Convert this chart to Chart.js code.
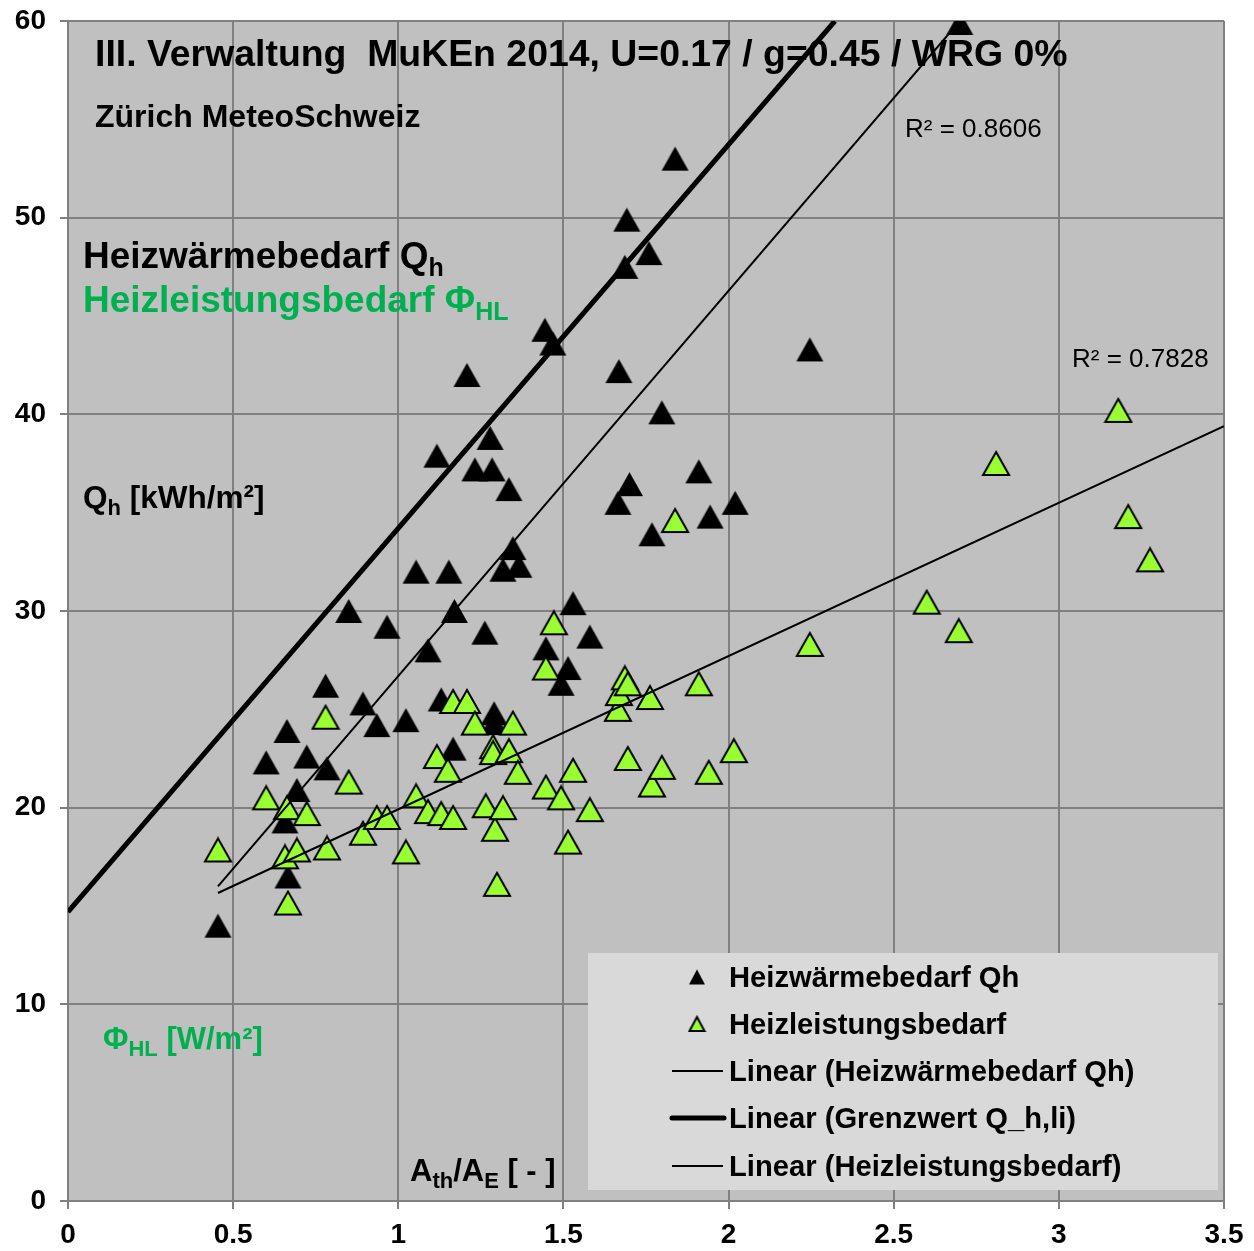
<!DOCTYPE html>
<html>
<head>
<meta charset="utf-8">
<script src="https://cdn.jsdelivr.net/npm/chart.js@4"></script>
<style>
  body { margin: 0; background: #fff; }
  canvas { display: block; }
</style>
</head>
<body>
<canvas id="chartVerwaltung" width="1254" height="1251"></canvas>
<script>
// A_th/A_E of the buildings and Heizwaermebedarf Qh [kWh/m2]
let qhX = [0.454, 0.60, 0.663, 0.657, 0.666, 0.693, 0.723, 0.784, 0.78, 0.85,
  0.893, 0.935, 0.966, 1.023, 1.054, 1.09, 1.117, 1.13, 1.153, 1.166,
  1.17, 1.208, 1.232, 1.262, 1.278, 1.284, 1.29, 1.29, 1.317, 1.335,
  1.347, 1.365, 1.444, 1.447, 1.468, 1.493, 1.514, 1.529, 1.58, 1.665,
  1.668, 1.686, 1.692, 1.70, 1.759, 1.768, 1.798, 1.838, 1.91, 1.944,
  2.02, 2.246, 2.70]
let qhY = [14.0, 22.3, 23.9, 19.3, 16.5, 20.9, 22.6, 22.0, 26.2, 30.0,
  25.3, 24.2, 29.2, 24.45, 32.0, 28.0, 37.9, 25.5, 32.0, 23.0,
  30.0, 42.0, 37.2, 28.9, 38.8, 37.2, 24.8, 24.3, 32.1, 36.2,
  33.2, 32.3, 44.3, 28.1, 43.6, 26.3, 27.1, 30.4, 28.7, 35.5,
  42.2, 47.5, 49.9, 36.45, 48.2, 33.9, 40.1, 53.0, 37.1, 34.8,
  35.5, 43.3, 59.9]

// Heizleistungsbedarf PhiHL [W/m2]
let hlX = [0.454, 0.60, 0.663, 0.657, 0.666, 0.693, 0.723, 0.784, 0.78, 0.85,
  0.893, 0.935, 0.966, 1.023, 1.054, 1.09, 1.117, 1.13, 1.15, 1.166,
  1.166, 1.208, 1.232, 1.265, 1.287, 1.287, 1.293, 1.299, 1.317, 1.335,
  1.347, 1.362, 1.447, 1.447, 1.471, 1.493, 1.514, 1.529, 1.58, 1.665,
  1.668, 1.686, 1.695, 1.695, 1.762, 1.768, 1.798, 1.838, 1.91, 1.94,
  2.016, 2.246, 2.60, 2.697, 2.81, 3.18, 3.21, 3.276]
let hlY = [17.85, 20.5, 20.0, 17.5, 15.15, 17.85, 19.7, 17.95, 24.6, 21.3,
  18.7, 19.5, 19.5, 17.75, 20.6, 19.8, 22.6, 19.7, 21.9, 19.5,
  25.4, 25.4, 24.3, 20.1, 23.1, 22.8, 18.9, 16.1, 20.0, 22.9,
  24.3, 21.8, 21.05, 27.1, 29.4, 20.5, 18.25, 21.9, 19.9, 25.0,
  25.8, 26.6, 26.3, 22.5, 25.6, 21.15, 22.05, 34.6, 26.3, 21.8,
  22.9, 28.3, 30.45, 29.0, 37.5, 40.2, 34.8, 32.6]

// trend lines, end points
let trendQhX = [0.454, 2.70]
let trendQhY = [16.0, 60.0]
let grenzX = [0, 2.322]
let grenzY = [14.7, 60.0]
let trendHlX = [0.454, 3.5]
let trendHlY = [15.66, 39.4]

let xTicks = [0, 0.5, 1, 1.5, 2, 2.5, 3, 3.5]
let yTicks = [0, 10, 20, 30, 40, 50, 60]

let legendLabels = ['Heizwärmebedarf Qh', 'Heizleistungsbedarf', 'Linear (Heizwärmebedarf Qh)',
  'Linear (Grenzwert Q_h,li)', 'Linear (Heizleistungsbedarf)']

const FONT = 'Arial, "Liberation Sans", sans-serif'
const GREEN_TEXT = '#00b050'
const GREEN_FILL = '#99ff33'

function points(xs, ys) {
  let out = []
  for (let i = 0; i < xs.length; i++) {
    out.push({x: xs[i], y: ys[i]})
  }
  return out
}

// triangle marker centred on its bounding box, like the Excel markers
function triangle(w, h, fill, stroke) {
  let c = document.createElement('canvas')
  c.width = w + 4
  c.height = h + 4
  let g = c.getContext('2d')
  g.beginPath()
  g.moveTo(2 + w / 2, 2)
  g.lineTo(2 + w, 2 + h)
  g.lineTo(2, 2 + h)
  g.closePath()
  g.fillStyle = fill
  g.fill()
  if (stroke) {
    g.lineWidth = 2
    g.strokeStyle = stroke
    g.stroke()
  }
  return c
}

// draw a text made of runs (normal + subscript parts)
function drawRuns(ctx, x, y, runs, color) {
  ctx.save()
  ctx.textBaseline = 'alphabetic'
  ctx.textAlign = 'left'
  ctx.fillStyle = color
  for (let r of runs) {
    ctx.font = (r.bold === false ? '' : 'bold ') + r.size + 'px ' + FONT
    ctx.fillText(r.t, x, y + (r.dy || 0))
    x += ctx.measureText(r.t).width
  }
  ctx.restore()
}

const plotBackground = {
  id: 'plotBackground',
  beforeDraw(chart) {
    let a = chart.chartArea
    let ctx = chart.ctx
    ctx.save()
    ctx.fillStyle = '#c0c0c0'
    ctx.fillRect(a.left, a.top, a.right - a.left, a.bottom - a.top)
    ctx.restore()
  }
}

const annotations = {
  id: 'annotations',
  afterDatasetsDraw(chart) {
    let ctx = chart.ctx
    drawRuns(ctx, 95, 66, [{t: 'III. Verwaltung  MuKEn 2014, U=0.17 / g=0.45 / WRG 0%', size: 37.4}], '#000')
    drawRuns(ctx, 95, 127, [{t: 'Zürich MeteoSchweiz', size: 32}], '#000')
    drawRuns(ctx, 83, 268, [{t: 'Heizwärmebedarf Q', size: 37}, {t: 'h', size: 25, dy: 8}], '#000')
    drawRuns(ctx, 83, 312, [{t: 'Heizleistungsbedarf Φ', size: 37}, {t: 'HL', size: 25, dy: 8}], GREEN_TEXT)
    drawRuns(ctx, 83, 508, [{t: 'Q', size: 31.5}, {t: 'h', size: 22, dy: 7}, {t: ' [kWh/m²]', size: 31.5}], '#000')
    drawRuns(ctx, 103, 1049, [{t: 'Φ', size: 31}, {t: 'HL', size: 22, dy: 7}, {t: ' [W/m²]', size: 31}], GREEN_TEXT)
    drawRuns(ctx, 410, 1181, [{t: 'A', size: 31}, {t: 'th', size: 22, dy: 7}, {t: '/A', size: 31},
      {t: 'E', size: 22, dy: 7}, {t: ' [ - ]', size: 31}], '#000')
    drawRuns(ctx, 905, 137, [{t: 'R² = 0.8606', size: 26, bold: false}], '#000')
    drawRuns(ctx, 1072, 367, [{t: 'R² = 0.7828', size: 26, bold: false}], '#000')

    // legend box
    ctx.save()
    ctx.fillStyle = '#d9d9d9'
    ctx.fillRect(588, 953, 630, 237)
    let rowY = [977, 1024, 1071, 1118, 1166]
    ctx.drawImage(legendBlack, 697 - legendBlack.width / 2, rowY[0] - legendBlack.height / 2)
    ctx.drawImage(legendGreen, 697 - legendGreen.width / 2, rowY[1] - legendGreen.height / 2)
    ctx.strokeStyle = '#000'
    ctx.lineCap = 'butt'
    ctx.lineWidth = 2
    ctx.beginPath()
    ctx.moveTo(672, rowY[2]); ctx.lineTo(723, rowY[2])
    ctx.moveTo(672, rowY[4]); ctx.lineTo(723, rowY[4])
    ctx.stroke()
    ctx.lineWidth = 5
    ctx.lineCap = 'round'
    ctx.beginPath()
    ctx.moveTo(672, rowY[3]); ctx.lineTo(724, rowY[3])
    ctx.stroke()
    ctx.restore()
    for (let i = 0; i < legendLabels.length; i++) {
      drawRuns(ctx, 729, rowY[i] + 10, [{t: legendLabels[i], size: 29.2}], '#000')
    }
  }
}

let blackTri = triangle(27, 24, '#000', null)
let greenTri = triangle(26, 23, GREEN_FILL, '#000')
let legendBlack = triangle(16, 15, '#000', null)
let legendGreen = triangle(15, 14, GREEN_FILL, '#000')

const tickFont = {family: FONT, size: 28, weight: 'bold'}

var ctx = document.getElementById('chartVerwaltung').getContext('2d')
var myChart = new Chart(ctx, {
  type: 'scatter',
  data: {
    datasets: [{
      label: 'Linear (Heizwärmebedarf Qh)',
      data: points(trendQhX, trendQhY),
      showLine: true,
      borderColor: '#000',
      borderWidth: 2,
      pointRadius: 0,
      order: 1
    }, {
      label: 'Linear (Grenzwert Q_h,li)',
      data: points(grenzX, grenzY),
      showLine: true,
      borderColor: '#000',
      borderWidth: 5,
      pointRadius: 0,
      order: 1
    }, {
      label: 'Linear (Heizleistungsbedarf)',
      data: points(trendHlX, trendHlY),
      showLine: true,
      borderColor: '#000',
      borderWidth: 2,
      pointRadius: 0,
      order: 1
    }, {
      label: 'Heizleistungsbedarf',
      data: points(hlX, hlY),
      pointStyle: greenTri,
      pointRadius: 13,
      order: 2
    }, {
      label: 'Heizwärmebedarf Qh',
      data: points(qhX, qhY),
      pointStyle: blackTri,
      pointRadius: 13,
      order: 3
    }]
  },
  options: {
    responsive: false,
    animation: false,
    events: [],
    layout: {padding: {top: 21, right: 30, left: 0, bottom: 0}},
    plugins: {
      legend: {display: false},
      tooltip: {enabled: false}
    },
    scales: {
      x: {
        type: 'linear',
        min: 0,
        max: 3.5,
        afterBuildTicks: function(scale) { scale.ticks = xTicks.map(v => ({value: v})) },
        afterFit: function(scale) {
          scale.height = 50
          scale.paddingLeft = 0
          scale.paddingRight = 0
        },
        ticks: {font: tickFont, color: '#000', padding: 9, maxRotation: 0, callback: v => String(v)},
        grid: {color: '#808080', lineWidth: 2, tickLength: 8},
        border: {color: '#808080', width: 2}
      },
      y: {
        min: 0,
        max: 60,
        afterBuildTicks: function(scale) { scale.ticks = yTicks.map(v => ({value: v})) },
        afterFit: function(scale) {
          scale.width = 68
          scale.paddingTop = 0
          scale.paddingBottom = 0
        },
        ticks: {font: tickFont, color: '#000', padding: 14, callback: v => String(v)},
        grid: {color: '#808080', lineWidth: 2, tickLength: 8},
        border: {color: '#808080', width: 2}
      }
    }
  },
  plugins: [plotBackground, annotations]
})
</script>
</body>
</html>
